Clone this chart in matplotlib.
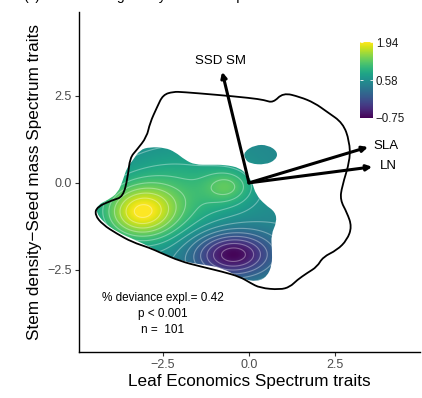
"""
Biplot of trait axes with the fitted response surface (viridis) and data hull.
"""

import numpy as np
import matplotlib
matplotlib.use("Agg")
import matplotlib.pyplot as plt
from matplotlib.path import Path
from matplotlib.patches import PathPatch

plt.rcParams['font.family'] = ['Liberation Sans', 'DejaVu Sans']

# --- response surface: peaks / troughs ---
base_level = 0.5
peak_x = [-3.17, -2.0, -0.6, -0.47]
peak_y = [-0.86, -0.3, -0.1, -2.05]
peak_amp = [1.2, 0.5, 0.5, -1.25]
peak_sx = [0.75, 1.3, 0.5, 0.8]
peak_sy = [0.55, 0.9, 0.35, 0.45]

# --- region where the surface is shown ---
region_x = [-3.37, -3.17, -2.88, -2.44, -2.15, -1.86, -1.57, -1.13, -0.70, -0.26,
            -0.06, 0.09, 0.20, 0.47, 0.76, 0.81, 0.64, 0.67, 0.67, 0.52,
            0.23, -0.20, -0.78, -1.28, -1.86, -2.44, -2.88, -3.31, -3.84, -4.24,
            -4.45, -4.39, -4.10, -3.81, -3.66, -3.55]
region_y = [0.66, 0.95, 1.03, 1.01, 0.89, 0.66, 0.52, 0.52, 0.52, 0.43,
            0.23, 0.03, -0.34, -0.63, -0.83, -1.12, -1.49, -1.93, -2.36, -2.70,
            -2.84, -2.76, -2.44, -2.36, -2.27, -2.07, -1.84, -1.64, -1.41, -1.12,
            -0.83, -0.63, -0.49, -0.29, 0.09, 0.43]
blob_x = [-0.15, 0.17, 0.55, 0.84, 0.78, 0.47, 0.03, -0.12]
blob_y = [0.89, 1.09, 1.09, 0.89, 0.66, 0.52, 0.55, 0.69]

# --- outer hull (black line) ---
hull_x = [-2.88, -2.67, -2.50, -2.20, -1.92, -0.93, 0.03, 0.45, 0.70, 0.99,
          1.48, 1.90, 2.27, 2.73, 2.92, 2.94, 2.70, 2.65, 2.85, 2.99,
          2.85, 2.56, 2.15, 1.98, 1.69, 1.40, 1.19, 0.90, 0.32, 0.03,
          -0.26, -0.78, -1.42, -2.00, -2.59, -2.88, -3.40, -3.84, -4.25, -4.48,
          -4.42, -3.95, -3.66, -3.52, -3.46, -3.26, -2.97]
hull_y = [1.72, 2.18, 2.53, 2.62, 2.61, 2.53, 2.44, 2.38, 2.30, 2.59,
          2.47, 2.30, 2.04, 1.72, 1.20, 0.66, -0.11, -0.49, -0.86, -1.26,
          -1.64, -1.93, -2.13, -2.41, -2.59, -2.79, -2.99, -3.07, -3.02, -2.87,
          -2.70, -2.55, -2.40, -2.25, -2.00, -1.87, -1.70, -1.46, -1.20, -0.92,
          -0.69, -0.49, -0.40, 0.17, 0.72, 0.95, 1.32]

# --- trait loadings ---
arrow_labels = ['SSD SM', 'SLA', 'LN']
arrow_x = [-0.78, 3.46, 3.58]
arrow_y = [3.19, 1.03, 0.46]

stats_lines = ['% deviance expl.= 0.42', 'p < 0.001', 'n =  101']
cbar_ticks = [-0.75, 0.58, 1.94]
xtick_vals = [-2.5, 0.0, 2.5]
xtick_text = ['\u22122.5', '0.0', '2.5']
ytick_vals = [-2.5, 0.0, 2.5]
ytick_text = ['\u22122.5', '0.0', '2.5']


def smooth_closed_path(xs, ys):
    # quadratic B-spline through the midpoints, closed
    pts = np.column_stack([xs, ys])
    mids = (pts + np.roll(pts, -1, axis=0)) / 2
    verts = [mids[-1]]
    codes = [Path.MOVETO]
    for p, m in zip(pts, mids):
        verts += [p, m]
        codes += [Path.CURVE3, Path.CURVE3]
    return Path(verts, codes)


fig = plt.figure(figsize=(4.22, 3.98), dpi=100)
ax = fig.add_axes([79 / 422, 1 - 352 / 398, (420 - 79) / 422, (352 - 12) / 398])
ax.set_xlim(-4.94, 4.97)
ax.set_ylim(-4.86, 4.91)

# surface
gx = np.linspace(-4.94, 4.97, 500)
gy = np.linspace(-4.86, 4.91, 500)
X, Y = np.meshgrid(gx, gy)
Z = np.full_like(X, base_level)
for cx, cy, a, sx, sy in zip(peak_x, peak_y, peak_amp, peak_sx, peak_sy):
    Z += a * np.exp(-0.5 * (((X - cx) / sx) ** 2 + ((Y - cy) / sy) ** 2))

clip_path = Path.make_compound_path(smooth_closed_path(region_x, region_y),
                                    smooth_closed_path(blob_x, blob_y))
clip = PathPatch(clip_path, transform=ax.transData, facecolor='none', edgecolor='none')

im = ax.imshow(Z, extent=(gx[0], gx[-1], gy[0], gy[-1]), origin='lower',
               cmap='viridis', vmin=-0.75, vmax=1.94, aspect='auto',
               interpolation='bilinear', zorder=1)
im.set_clip_path(clip)

cs = ax.contour(X, Y, Z, levels=np.arange(-0.6, 1.95, 0.18), colors='white',
                linewidths=0.8, alpha=0.35, negative_linestyles='solid', zorder=2)
cs.set_clip_path(clip)

# hull outline
ax.add_patch(PathPatch(smooth_closed_path(hull_x, hull_y), facecolor='none',
                       edgecolor='black', lw=1.3, zorder=3))

# loadings
for lab, tx, ty in zip(arrow_labels, arrow_x, arrow_y):
    ax.annotate('', xy=(tx, ty), xytext=(0, 0),
                arrowprops=dict(arrowstyle='-|>', lw=2.2, color='black',
                                mutation_scale=8, shrinkA=0, shrinkB=0),
                zorder=4)
ax.text(arrow_x[0] - 0.06, arrow_y[0] + 0.32, arrow_labels[0], ha='center',
        va='center', fontsize=9.5)
ax.text(arrow_x[1] + 0.17, arrow_y[1] + 0.03, arrow_labels[1], ha='left',
        va='center', fontsize=9.5)
ax.text(arrow_x[2] + 0.22, arrow_y[2] + 0.03, arrow_labels[2], ha='left',
        va='center', fontsize=9.5)

# model stats
for i, line in enumerate(stats_lines):
    ax.text(-2.5, -3.3 - i * 0.47, line, ha='center', va='center', fontsize=8.5)

# axes styling
for side in ['top', 'right']:
    ax.spines[side].set_visible(False)
for side in ['left', 'bottom']:
    ax.spines[side].set_linewidth(1.0)
ax.set_xticks(xtick_vals)
ax.set_xticklabels(xtick_text)
ax.set_yticks(ytick_vals)
ax.set_yticklabels(ytick_text)
ax.tick_params(length=3, width=0.8, color='#333333', labelcolor='#4D4D4D',
               labelsize=9, pad=2)
ax.set_xlabel('Leaf Economics Spectrum traits', fontsize=12.3, labelpad=2)
ax.set_ylabel('Stem density\u2212Seed mass Spectrum traits', fontsize=12.3, labelpad=4)

# colour bar
cax = fig.add_axes([360 / 422, 1 - 118 / 398, 13 / 422, 76 / 398])
cb = fig.colorbar(im, cax=cax)
cb.outline.set_visible(False)
cb.set_ticks(cbar_ticks)
cb.set_ticklabels(['%.2f' % t if t >= 0 else '\u2212%.2f' % -t for t in cbar_ticks])
cax.tick_params(axis='y', direction='in', length=2.5, width=0.6, color='white',
                left=True, right=True, labelsize=8.3, labelcolor='#1A1A1A', pad=2)

# title (cut off by the top edge in the original)
fig.text(0.055, 1.001, '(b)', fontsize=10, va='baseline')
fig.text(0.195, 1.001, 'Ecological Syndrome response', fontsize=10, va='baseline')

fig.savefig('out.png', dpi=100)
